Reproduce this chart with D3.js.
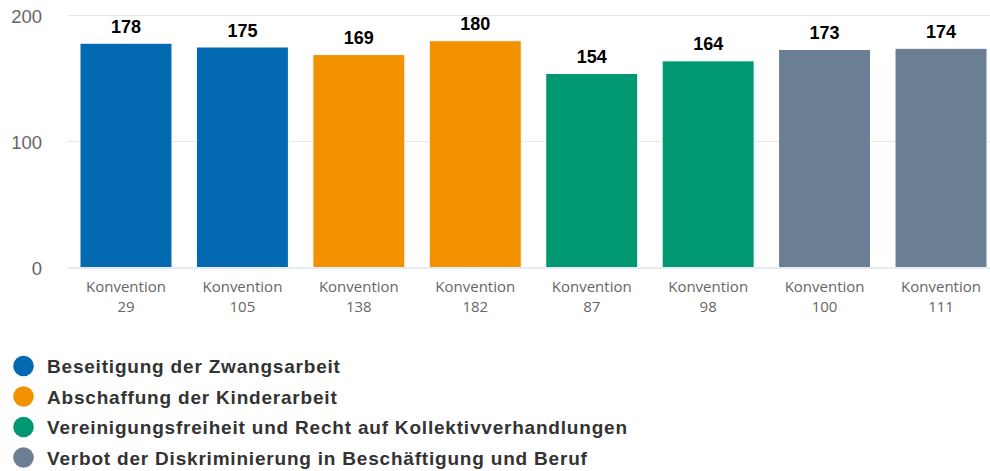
<!DOCTYPE html>
<html>
<head>
<meta charset="utf-8">
<script src="https://cdn.jsdelivr.net/npm/d3@7"></script>
<style>
  body { margin: 0; background: #fff; }
  svg { display: block; }
</style>
</head>
<body>
<svg width="990" height="471"></svg>
<script>
const conventions = ["29", "105", "138", "182", "87", "98", "100", "111"]
const values = [178, 175, 169, 180, 154, 164, 173, 174]
const groups = [0, 0, 1, 1, 2, 2, 3, 3]
const seriesNames = [
    "Beseitigung der Zwangsarbeit",
    "Abschaffung der Kinderarbeit",
    "Vereinigungsfreiheit und Recht auf Kollektivverhandlungen",
    "Verbot der Diskriminierung in Beschäftigung und Beruf"
]
const yTicks = [0, 100, 200]

const colors = ["#0369b1", "#f39200", "#009870", "#6a7f93"]

let svg = d3.select("svg"),
    plotLeft = 68, plotRight = 999, plotTop = 15.5, plotBottom = 267.5

let x = d3.scaleBand()
    .domain(conventions)
    .range([plotLeft, plotRight])
    .paddingInner(0.21)
    .paddingOuter(0.103)

let y = d3.scaleLinear()
    .domain([0, 200])
    .range([plotBottom, plotTop])

// gridlines
svg.append("g").selectAll("line").data(yTicks.slice(1))
    .enter().append("line")
    .attr("x1", plotLeft).attr("x2", 990)
    .attr("y1", d => y(d)).attr("y2", d => y(d))
    .attr("stroke", "#e6e6e6")
    .attr("stroke-width", 1)

// y labels
svg.append("g").selectAll("text").data(yTicks)
    .enter().append("text")
    .attr("x", 42)
    .attr("y", d => y(d) + 7.5)
    .attr("text-anchor", "end")
    .attr("fill", "#666")
    .style("font-family", "Liberation Sans, Arial, sans-serif")
    .style("font-size", "18.5px")
    .text(d => d)

// bars
svg.append("g").selectAll("rect").data(values)
    .enter().append("rect")
    .attr("x", (d, i) => x(conventions[i]))
    .attr("y", d => y(d))
    .attr("width", x.bandwidth())
    .attr("height", d => y(0) - y(d))
    .attr("fill", (d, i) => colors[groups[i]])
    .attr("stroke", "#ffffff")
    .attr("stroke-width", 1)

// x axis line
svg.append("line")
    .attr("x1", plotLeft).attr("x2", 990)
    .attr("y1", y(0) + 0.5).attr("y2", y(0) + 0.5)
    .attr("stroke", "#ccd6eb")

// value labels
svg.append("g").selectAll("text").data(values)
    .enter().append("text")
    .attr("x", (d, i) => x(conventions[i]) + x.bandwidth() / 2)
    .attr("y", d => y(d) - 10.5)
    .attr("text-anchor", "middle")
    .attr("fill", "#000")
    .style("font-family", "Liberation Sans, Arial, sans-serif")
    .style("font-size", "18px")
    .style("font-weight", "bold")
    .text(d => d)

// x labels
let xl = svg.append("g").selectAll("text").data(conventions)
    .enter().append("text")
    .attr("x", d => x(d) + x.bandwidth() / 2)
    .attr("y", 291.7)
    .attr("text-anchor", "middle")
    .attr("fill", "#666")
    .style("font-family", "Open Sans, sans-serif")
    .style("font-size", "15px")
xl.append("tspan").text("Konvention")
xl.append("tspan")
    .attr("x", d => x(d) + x.bandwidth() / 2)
    .attr("dy", 20)
    .text(d => d)

// legend
let legend = svg.append("g").selectAll("g").data(seriesNames)
    .enter().append("g")
    .attr("transform", (d, i) => "translate(0," + (366 + i * 30.5) + ")")

legend.append("circle")
    .attr("cx", 23.5)
    .attr("cy", 0)
    .attr("r", 10.3)
    .attr("fill", (d, i) => colors[i])

legend.append("text")
    .attr("x", 47)
    .attr("y", 7)
    .attr("fill", "#333")
    .style("font-family", "Liberation Sans, Arial, sans-serif")
    .style("font-size", "19px")
    .style("font-weight", "bold")
    .style("letter-spacing", "0.8px")
    .text(d => d)
</script>
</body>
</html>
